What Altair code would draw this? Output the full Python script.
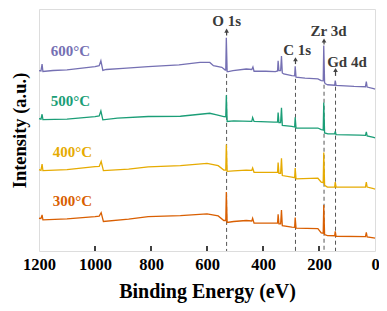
import altair as alt
import pandas as pd

# ---- data ----
series_names = ["300°C", "400°C", "500°C", "600°C"]
series_colors = ["#d95f02", "#e6ab02", "#1b9e77", "#7570b3"]

energy_600 = [1200, 1193, 1189, 1186, 1150, 1100, 1000, 985, 979, 972, 960, 900, 810, 700, 625, 590, 577, 547, 535, 533, 531, 528, 524, 507, 460, 440, 436, 432, 390, 356, 348, 346, 343, 337, 334, 331, 326, 297, 287, 285, 282, 250, 204, 192, 185, 183, 180, 177, 169, 144, 142, 139, 75, 34, 31, 28, 5, 0]
inten_600 = [188.3, 188, 195, 187.5, 188.5, 189.2, 192.5, 193.3, 198.3, 188.5, 189.5, 190.7, 192.5, 194.2, 196.7, 196.7, 193.3, 191.7, 189, 189, 221.7, 187.3, 187.3, 188.3, 190, 189.5, 192, 187.7, 187.7, 187.3, 188, 198.3, 188.3, 188.3, 203.3, 186, 185, 183.3, 183, 192.7, 181.7, 180.7, 180, 178.3, 178, 214, 176, 175, 174, 173.5, 178.3, 173.3, 172.3, 172, 177.3, 171.7, 170, 169.5]

energy_500 = [1200, 1193, 1189, 1186, 1100, 1000, 985, 979, 972, 920, 810, 695, 625, 590, 565, 540, 533, 531, 528, 505, 440, 437, 432, 360, 348, 346, 343, 337, 334, 331, 297, 287, 285, 282, 204, 192, 185, 183, 180, 168, 144, 142, 139, 55, 34, 31, 28, 5, 0]
inten_500 = [139.5, 139, 144, 138.5, 139, 141.5, 142.3, 147.3, 138.3, 140, 141.7, 142, 144, 145, 143.3, 141.7, 141.5, 163.3, 136.7, 137.3, 136.7, 140.7, 136.7, 136, 136, 145.7, 135.5, 135.5, 150.7, 132.7, 131.7, 131, 141, 130, 130, 128.3, 128, 156, 125, 124, 124, 126.7, 123.3, 122.7, 122.5, 126, 122, 120.5, 120]

energy_400 = [1200, 1193, 1189, 1186, 1100, 1000, 985, 978, 970, 880, 810, 695, 600, 560, 540, 533, 531, 528, 505, 460, 440, 437, 432, 390, 348, 346, 343, 337, 334, 331, 297, 287, 285, 282, 204, 192, 185, 183, 180, 170, 144, 142, 139, 34, 31, 28, 5, 0]
inten_400 = [87.7, 87, 93.3, 86.7, 87.7, 90.7, 91, 96, 86.7, 88.3, 90.5, 91.7, 94, 91.7, 87.3, 87.3, 113.3, 86, 86.5, 87.3, 87, 89.3, 85, 85, 85, 95, 84, 84, 99.3, 81.7, 80, 79.5, 89.3, 78.3, 79, 75, 74.5, 105, 71.7, 70, 70, 75, 70, 70, 75, 70, 68.3, 68]

energy_300 = [1200, 1193, 1189, 1186, 1100, 1000, 985, 978, 970, 880, 810, 695, 600, 560, 540, 533, 531, 528, 505, 460, 440, 437, 432, 348, 346, 343, 337, 334, 331, 297, 287, 285, 282, 204, 192, 185, 183, 180, 170, 144, 142, 139, 34, 31, 28, 5, 0]
inten_300 = [38.3, 38, 41.7, 36.7, 37.7, 40, 40.5, 44, 35, 37.3, 40, 41, 42.7, 40.7, 36, 36, 65, 34, 35, 36, 35.5, 38.3, 33.3, 33.3, 42.3, 32.5, 32.5, 46.7, 30.7, 29.3, 29, 39, 28.3, 27.7, 23.3, 23, 51.7, 21.7, 20.7, 20.5, 25, 20, 19.7, 24, 19.3, 18.3, 18]

label_energy = [1150.6, 1150.6, 1157.6, 1157.6]
label_inten = [50.7, 100.7, 152.3, 203.3]

tick_values = [1200, 1000, 800, 600, 400, 200, 0]

ann_text = ["O 1s", "C 1s", "Zr 3d", "Gd 4d"]
ann_text_x = [530, 278, 166, 100]
ann_text_y = [234, 204, 223.5, 192.5]
ann_peak_x = [530, 284, 182, 141]
ann_head_y = [229, 200, 219, 189]
ann_shaft_y = [224, 195, 215, 183]
ann_dash_top = [185, 180, 174, 172]

# ---- tables ----
rows = []
for name, es, vs in [("300°C", energy_300, inten_300), ("400°C", energy_400, inten_400),
                     ("500°C", energy_500, inten_500), ("600°C", energy_600, inten_600)]:
    for i, (e, v) in enumerate(zip(es, vs)):
        rows.append({"series": name, "energy": e, "intensity": v, "idx": i})
spec = pd.DataFrame(rows)
labels = pd.DataFrame({"series": series_names, "energy": label_energy, "intensity": label_inten})
ann = pd.DataFrame({"text": ann_text, "tx": ann_text_x, "ty": ann_text_y, "px": ann_peak_x,
                    "head": ann_head_y, "shaft": ann_shaft_y, "dash": ann_dash_top})
ticks = pd.DataFrame({"t": tick_values[1:-1]})

FONT = "Liberation Serif"
W, H = 336, 242
xscale = alt.Scale(domain=[0, 1200], reverse=True, nice=False, zero=False)
yscale = alt.Scale(domain=[5, 251], nice=False, zero=False)
cscale = alt.Scale(domain=series_names, range=series_colors)

xaxis = alt.Axis(values=tick_values, format="d", labelFont=FONT, labelFontWeight="bold",
                 labelFontSize=16.5, labelColor="black", tickSize=0, labelPadding=5,
                 domain=False, grid=False, title="Binding Energy (eV)", titleFont=FONT,
                 titleFontWeight="bold", titleFontSize=20, titleColor="black", titlePadding=9,
                 labelFlush=False)
yaxis = alt.Axis(labels=False, ticks=False, domain=False, grid=False, title="Intensity (a.u.)",
                 titleFont=FONT, titleFontWeight="bold", titleFontSize=18.5, titleColor="black",
                 titlePadding=10)

lines = alt.Chart(spec).mark_line(strokeWidth=1.3).encode(
    x=alt.X("energy:Q", scale=xscale, axis=xaxis),
    y=alt.Y("intensity:Q", scale=yscale, axis=yaxis),
    color=alt.Color("series:N", scale=cscale, legend=None),
    order="idx:Q",
    detail="series:N",
)

series_text = alt.Chart(labels).mark_text(align="left", baseline="alphabetic", font=FONT,
                                          fontWeight="bold", fontSize=15).encode(
    x=alt.X("energy:Q", scale=xscale),
    y=alt.Y("intensity:Q", scale=yscale),
    text="series:N",
    color=alt.Color("series:N", scale=cscale, legend=None),
)

dashes = alt.Chart(ann).mark_rule(color="#555555", strokeWidth=1, strokeDash=[4, 3]).encode(
    x=alt.X("px:Q", scale=xscale),
    y=alt.Y("dash:Q", scale=yscale),
    y2=alt.value(H),
)

shafts = alt.Chart(ann).mark_rule(color="#444444", strokeWidth=1.2).encode(
    x=alt.X("px:Q", scale=xscale),
    y=alt.Y("shaft:Q", scale=yscale),
    y2="head:Q",
)

heads = alt.Chart(ann).mark_point(shape="triangle-up", filled=True, size=22, color="#444444",
                                  opacity=1).encode(
    x=alt.X("px:Q", scale=xscale),
    y=alt.Y("head:Q", scale=yscale),
)

ann_text_layer = alt.Chart(ann).mark_text(align="center", baseline="alphabetic", font=FONT,
                                          fontWeight="bold", fontSize=15, color="#3a3a3a").encode(
    x=alt.X("tx:Q", scale=xscale),
    y=alt.Y("ty:Q", scale=yscale),
    text="text:N",
)

tick_marks = alt.Chart(ticks).mark_rule(color="black", strokeWidth=1.5).encode(
    x=alt.X("t:Q", scale=xscale),
    y=alt.value(H),
    y2=alt.value(H - 5),
)

chart = alt.layer(dashes, lines, shafts, heads, ann_text_layer, series_text, tick_marks).properties(
    width=W, height=H,
    autosize=alt.AutoSizeParams(type="none"),
    padding={"left": 31, "top": 1, "right": 4, "bottom": 52},
).configure_view(stroke="black", strokeWidth=2).configure(background="white")

chart.save("out.html", embed_options={"renderer": "svg", "actions": False})
